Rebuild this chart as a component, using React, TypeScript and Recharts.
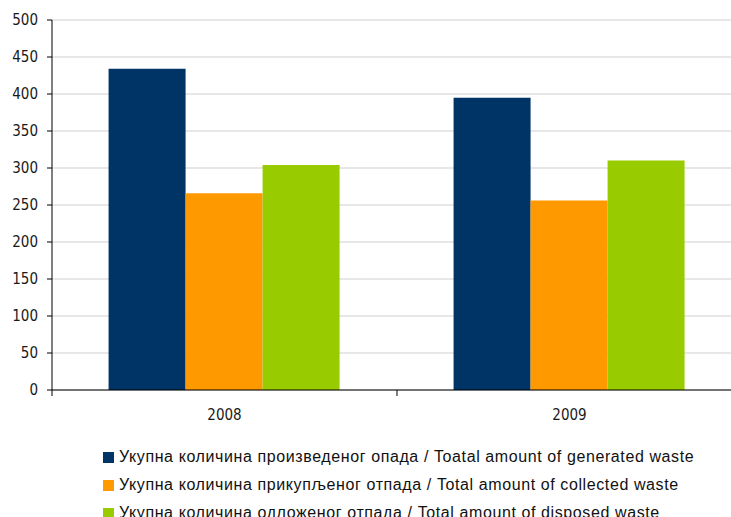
import React from 'react';
import { BarChart, Bar, XAxis, YAxis, CartesianGrid, Legend } from 'recharts';

const YEARS = ['2008', '2009'];
const GENERATED = [434, 395];
const COLLECTED = [266, 256];
const DISPOSED = [304, 310];
const Y_TICKS = [0, 50, 100, 150, 200, 250, 300, 350, 400, 450, 500];

const SERIES = [
  { key: 'generated', name: 'Укупна количина произведеног опада / Toatal amount of generated waste', color: '#003366' },
  { key: 'collected', name: 'Укупна количина прикупљеног отпада / Total amount of collected waste', color: '#ff9900' },
  { key: 'disposed', name: 'Укупна количина одложеног отпада / Total amount of disposed waste', color: '#99cc00' },
];

const data = YEARS.map((year, i) => ({
  year,
  generated: GENERATED[i],
  collected: COLLECTED[i],
  disposed: DISPOSED[i],
}));

const TICK_FONT = '"DejaVu Sans Condensed", "DejaVu Sans", sans-serif';
const X_TICK_SIZE = 6;
const X_TICK_MARGIN = 12;

const YearTick = (props: any) => {
  const { x, y, payload } = props;
  const axisY = y - X_TICK_SIZE - X_TICK_MARGIN;
  const edge = payload.coordinate - (payload.offset || 0);
  return (
    <g>
      <line x1={edge} x2={edge} y1={axisY} y2={axisY + X_TICK_SIZE} stroke="#000" />
      <text x={x} y={axisY + 30} textAnchor="middle" fill="#1a1a1a" fontSize={15} fontFamily={TICK_FONT}>
        {payload.value}
      </text>
    </g>
  );
};

const LegendBox = () => (
  <div
    style={{
      fontFamily: '"Liberation Sans", Arial, sans-serif',
      fontSize: 16,
      letterSpacing: 0.6,
      color: '#111',
      whiteSpace: 'nowrap',
    }}
  >
    {SERIES.map(s => (
      <div key={s.key} style={{ display: 'flex', alignItems: 'center', height: 28 }}>
        <span style={{ display: 'inline-block', width: 11, height: 11, background: s.color, marginRight: 5 }} />
        <span>{s.name}</span>
      </div>
    ))}
  </div>
);

export default function App() {
  return (
    <div style={{ position: 'absolute', top: 0, left: 0, width: 731, height: 517, overflow: 'hidden', background: '#fff' }}>
      <BarChart
        width={760}
        height={517}
        data={data}
        margin={{ top: 20, right: 18, left: 0, bottom: 97 }}
        barCategoryGap="16.4%"
        barGap={0}
      >
        <CartesianGrid vertical={false} stroke="#cfcfcf" />
        <XAxis
          dataKey="year"
          height={30}
          axisLine={{ stroke: '#000' }}
          tickLine={false}
          tickSize={X_TICK_SIZE}
          tickMargin={X_TICK_MARGIN}
          tick={<YearTick />}
        />
        <YAxis
          width={52}
          domain={[0, 500]}
          ticks={Y_TICKS}
          interval={0}
          axisLine={{ stroke: '#000' }}
          tickLine={{ stroke: '#000' }}
          tickSize={5}
          tickMargin={9}
          tick={{ fill: '#1a1a1a', fontSize: 15, fontFamily: TICK_FONT }}
        />
        {SERIES.map(s => (
          <Bar key={s.key} dataKey={s.key} name={s.name} fill={s.color} isAnimationActive={false} />
        ))}
        <Legend
          layout="horizontal"
          verticalAlign="middle"
          align="center"
          content={<LegendBox />}
          wrapperStyle={{ position: 'absolute', left: 103, top: 443, width: 640 }}
        />
      </BarChart>
    </div>
  );
}
